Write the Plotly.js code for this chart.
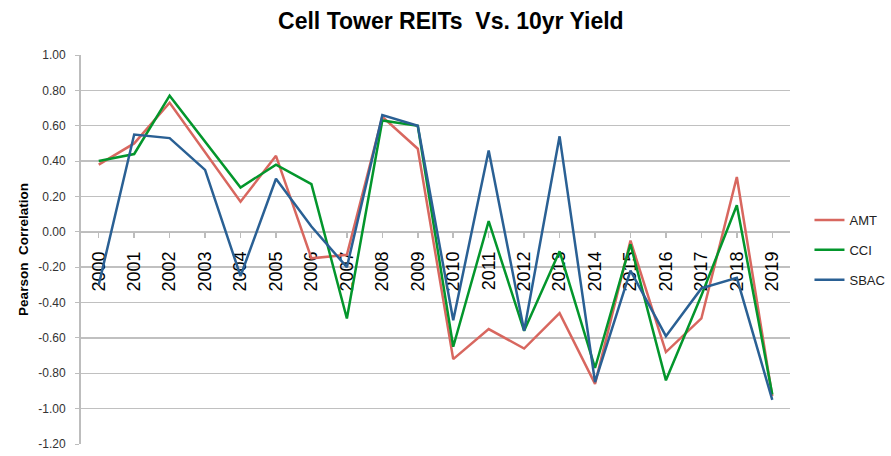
<!DOCTYPE html>
<html>
<head>
<meta charset="utf-8">
<script src="https://cdn.plot.ly/plotly-3.0.1.min.js"></script>
<style>html,body{margin:0;padding:0;background:#fff;}#chart{width:891px;height:456px;}</style>
</head>
<body>
<div id="chart"></div>
<script>
const years = ['2000','2001','2002','2003','2004','2005','2006','2007','2008','2009','2010','2011','2012','2013','2014','2015','2016','2017','2018','2019'];
const amt  = [0.38, 0.50, 0.73, 0.45, 0.17, 0.43, -0.15, -0.13, 0.65, 0.47, -0.72, -0.55, -0.66, -0.46, -0.86, -0.05, -0.68, -0.49, 0.31, -0.93];
const cci  = [0.40, 0.44, 0.77, 0.51, 0.25, 0.38, 0.27, -0.49, 0.63, 0.60, -0.65, 0.06, -0.56, -0.11, -0.77, -0.07, -0.84, -0.36, 0.15, -0.92];
const sbac = [-0.30, 0.55, 0.53, 0.35, -0.25, 0.30, 0.03, -0.20, 0.66, 0.60, -0.50, 0.46, -0.56, 0.54, -0.85, -0.22, -0.59, -0.32, -0.26, -0.95];
const yTickVals = [1.0, 0.8, 0.6, 0.4, 0.2, 0.0, -0.2, -0.4, -0.6, -0.8, -1.0, -1.2];
const yTickText = yTickVals.map(v => v.toFixed(2));

const font = 'Liberation Sans, Arial, sans-serif';
function tr(name, y, color) {
  return {x: years, y: y, name: name, type: 'scatter', mode: 'lines', legendgroup: name,
          line: {color: color, width: 2.5}};
}
const data = [tr('AMT', amt, '#d8675f'), tr('CCI', cci, '#03962c'), tr('SBAC', sbac, '#2a6094')];
const layout = {
  width: 891, height: 456,
  margin: {l: 81, r: 101, t: 55, b: 12, autoexpand: false},
  paper_bgcolor: '#fff', plot_bgcolor: '#fff',
  font: {family: font, color: '#222'},
  title: {text: 'Cell Tower REITs  Vs. 10yr Yield', font: {family: font, size: 23, color: '#000', weight: 'bold'},
          xref: 'container', x: 0.506, xanchor: 'center', yref: 'container', y: 0.953, yanchor: 'middle'},
  xaxis: {type: 'category', anchor: 'free', position: 1.2 / 2.2, showgrid: false, zeroline: false,
          showline: true, linecolor: '#bdbdbd', linewidth: 1.5, ticks: 'outside', ticklen: 5, tickwidth: 1.5,
          tickcolor: '#bdbdbd', tickangle: -90, tickfont: {family: font, size: 18, color: '#000'},
          ticklabelstandoff: 6, layer: 'below traces', range: [-0.5, 19.5], fixedrange: true, automargin: false},
  yaxis: {range: [-1.2, 1.0], tickvals: yTickVals, ticktext: yTickText, showgrid: true, gridcolor: '#c0c0c0',
          gridwidth: 1.4, zeroline: false, showline: true, linecolor: '#bdbdbd', linewidth: 2,
          ticks: 'outside', ticklen: 4, tickcolor: '#bdbdbd', tickfont: {family: font, size: 12, color: '#333'},
          ticklabelstandoff: 7,
          title: {text: 'Pearson  Correlation', font: {family: font, size: 13.5, color: '#000', weight: 'bold'}, standoff: 7},
          automargin: false},
  legend: {xref: 'container', x: 0.9085, xanchor: 'left', yref: 'container', y: 1 - 205 / 456, yanchor: 'top',
           font: {family: font, size: 13, color: '#222'},
           tracegroupgap: 10, bgcolor: 'rgba(0,0,0,0)'},
  showlegend: true
};
Plotly.newPlot('chart', data, layout, {displayModeBar: false, staticPlot: true});
</script>
</body>
</html>
